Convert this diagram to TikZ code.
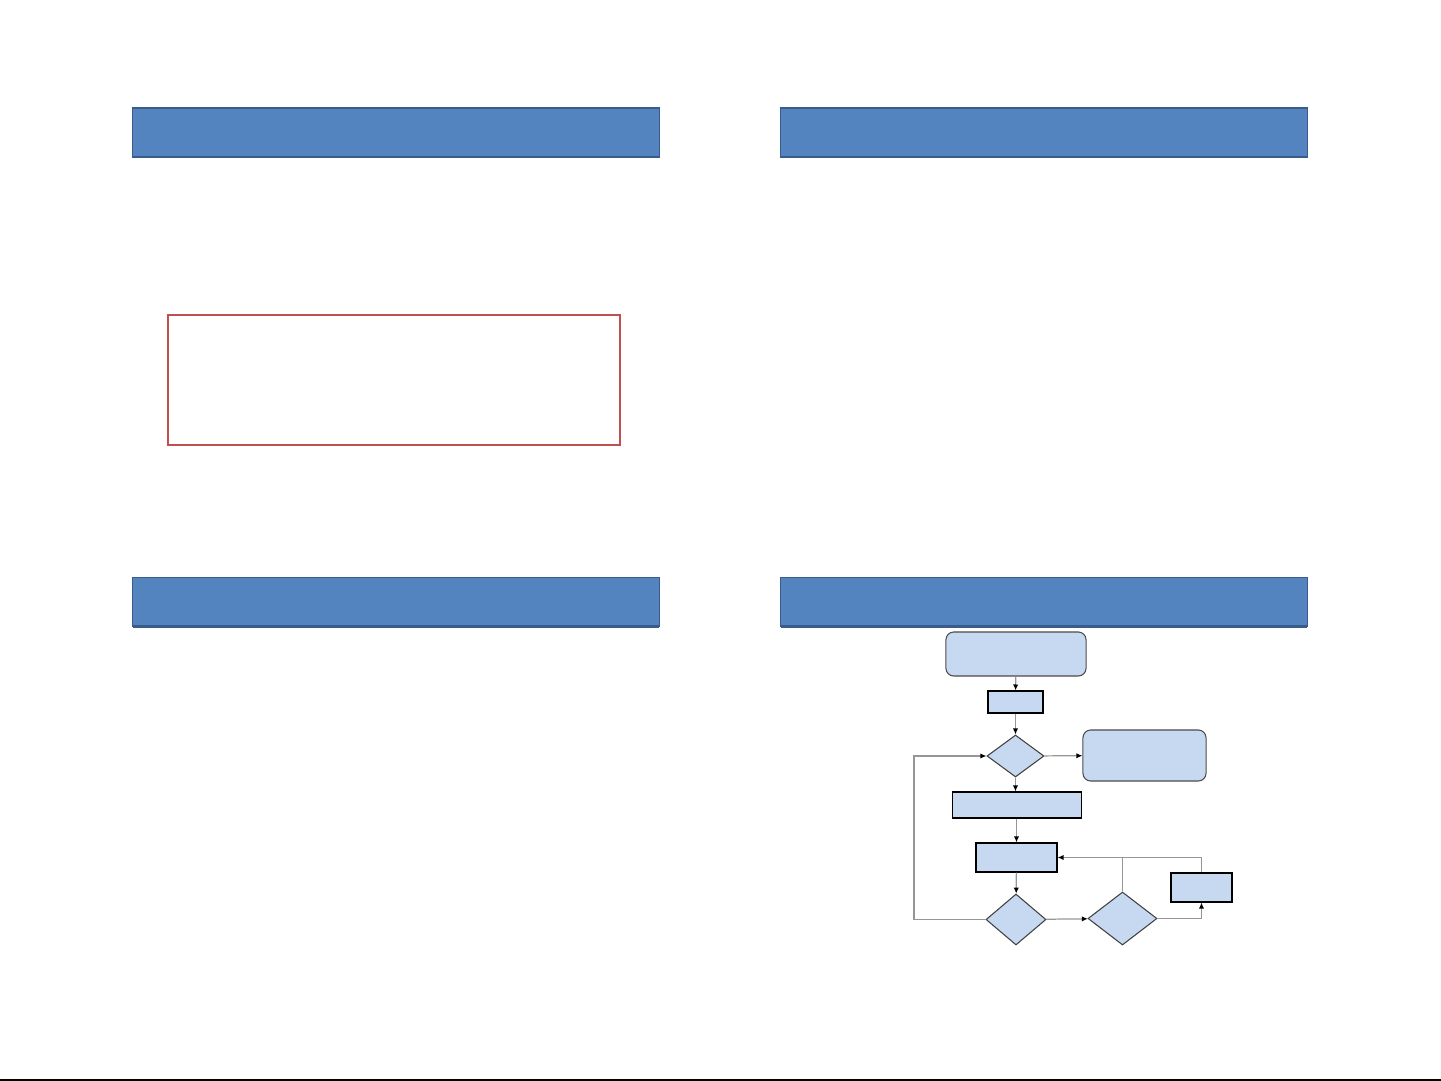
\documentclass[tikz,border=0pt]{standalone}
\usetikzlibrary{arrows.meta,shapes.geometric}
\definecolor{BarBlue}{RGB}{83,132,192}
\definecolor{BarEdge}{RGB}{56,93,138}
\definecolor{SoftBlue}{RGB}{198,217,240}
\definecolor{Red}{RGB}{192,80,77}
\definecolor{Line}{RGB}{150,150,150}
\tikzset{
  >=Latex,
  titlebar/.style={draw=BarEdge,line width=.3pt,fill=BarBlue,minimum width=5.26cm,minimum height=.49cm,inner sep=0pt,outer sep=0pt},
  barline/.style={draw=BarEdge,line width=.8pt},
  frame/.style={draw=Red,line width=.45pt,minimum width=4.52cm,minimum height=1.30cm,inner sep=0pt},
  rbox/.style={draw=black!70,line width=.3pt,fill=SoftBlue,rounded corners=2.2pt,inner sep=0pt},
  sbox/.style={draw=black,line width=.3pt,fill=SoftBlue,inner sep=0pt},
  dec/.style={diamond,draw=black!75,line width=.3pt,fill=SoftBlue,inner sep=0pt},
  flow/.style={-{Latex[length=1.7pt,width=1.5pt,black]},line width=.35pt,draw=Line},
  link/.style={line width=.35pt,draw=Line}
}
\begin{document}
\begin{tikzpicture}[x=.01cm,y=-.01cm]
  \useasboundingbox (0,0) rectangle (1441,1081);
  % title bars
  \node[titlebar] (tl) at (396,132.5) {};
  \node[titlebar] (tr) at (1044,132.5) {};
  \node[titlebar] (bl) at (396,602) {};
  \node[titlebar] (br) at (1044,602) {};
  \foreach \b in {tl,tr,bl,br}
    \draw[barline] (\b.south west) -- (\b.south east);
  \node[frame] (red) at (394,380) {};
  % flowchart
  \node[rbox,minimum width=1.40cm,minimum height=.44cm] (start) at (1016,654) {};
  \node[sbox,minimum width=.55cm,minimum height=.22cm] (s1) at (1015.5,702) {};
  \node[dec,minimum width=.57cm,minimum height=.42cm] (d1) at (1015.5,756) {};
  \node[rbox,minimum width=1.23cm,minimum height=.51cm] (side) at (1144.5,755.5) {};
  \node[sbox,minimum width=1.28cm,minimum height=.26cm] (wide) at (1017,805) {};
  \node[sbox,minimum width=.81cm,minimum height=.29cm] (mid) at (1016.5,857.5) {};
  \node[dec,minimum width=.60cm,minimum height=.51cm] (d2) at (1016,919.5) {};
  \node[dec,minimum width=.69cm,minimum height=.53cm] (d3) at (1122.5,918.5) {};
  \node[sbox,minimum width=.61cm,minimum height=.29cm] (s2) at (1201.5,887.5) {};
  \coordinate (lp) at (914,919.5);
  \coordinate (jn) at (1122.5,857.5);
  \draw[flow] (start) -- (s1);
  \draw[flow] (s1) -- (d1);
  \draw[flow] (d1) -- (side);
  \draw[flow] (d1.south) -- (d1.south |- wide.north);
  \draw[flow] (wide.south -| mid.north) -- (mid);
  \draw[flow] (mid) -- (d2);
  \draw[flow] (d2) -- (d3);
  \draw[flow] (d2.west) -- (lp) |- (d1.west);
  \draw[flow] (d3.east) -| (s2.south);
  \draw[flow] (d3.north) -- (jn) -- (mid.east);
  \draw[link] (s2.north) |- (jn);
  % bottom rule
  \draw[line width=.4pt] (0,1080) -- (1441,1080);
\end{tikzpicture}
\end{document}
